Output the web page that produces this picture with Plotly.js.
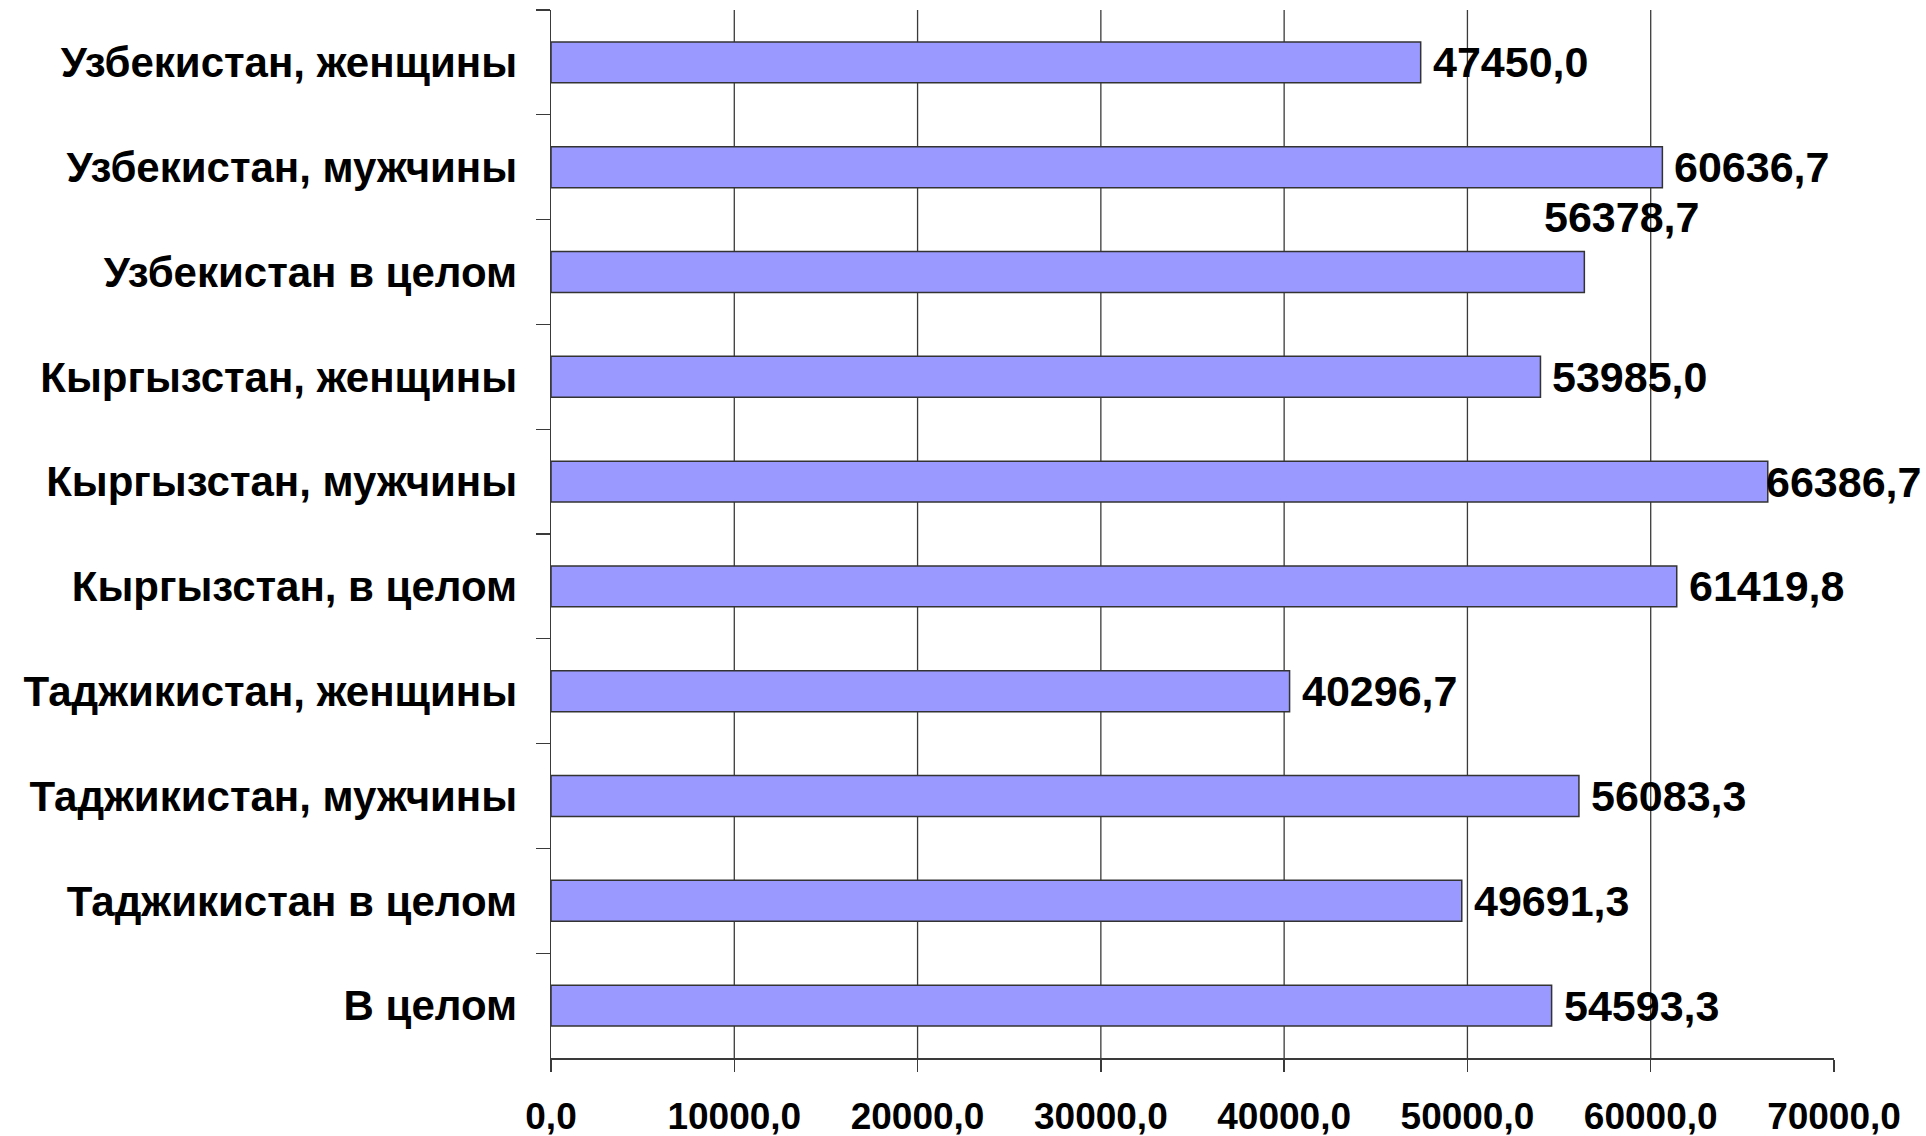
<!DOCTYPE html>
<html>
<head>
<meta charset="utf-8">
<script src="https://cdn.plot.ly/plotly-3.0.1.min.js"></script>
<style>
html, body { margin: 0; padding: 0; background: #ffffff; }
#chart { width: 1926px; height: 1136px; }
</style>
</head>
<body>
<div id="chart"></div>
<script>
// Categories, top to bottom as in the reference
var categories = [
  "Узбекистан, женщины",
  "Узбекистан, мужчины",
  "Узбекистан в целом",
  "Кыргызстан, женщины",
  "Кыргызстан, мужчины",
  "Кыргызстан, в целом",
  "Таджикистан, женщины",
  "Таджикистан, мужчины",
  "Таджикистан в целом",
  "В целом"
];
var values = [47450.0, 60636.7, 56378.7, 53985.0, 66386.7, 61419.8, 40296.7, 56083.3, 49691.3, 54593.3];
var valueLabels = ["47450,0", "60636,7", "56378,7", "53985,0", "66386,7", "61419,8", "40296,7", "56083,3", "49691,3", "54593,3"];
var xTickVals = [0, 10000, 20000, 30000, 40000, 50000, 60000, 70000];
var xTickText = ["0,0", "10000,0", "20000,0", "30000,0", "40000,0", "50000,0", "60000,0", "70000,0"];
// label offsets (pixels) for placement of value labels
var labelShiftX = [10, 10, -42, 10, -4, 10, 10, 10, 10, 10];
var labelShiftY = [0, 0, 55, 0, 0, 0, 0, 0, 0, 0];

var FONT = "'Liberation Sans', Arial, sans-serif";
var AXIS_COLOR = "#3a3a3a";

var trace = {
  type: "bar",
  orientation: "h",
  y: categories,
  x: values,
  marker: { color: "#9999ff", line: { color: "#333333", width: 1.5 } },
  hoverinfo: "skip"
};

var annotations = values.map(function (v, i) {
  return {
    x: v, y: categories[i], xref: "x", yref: "y",
    text: "<b>" + valueLabels[i] + "</b>",
    showarrow: false,
    xanchor: "left", yanchor: "middle",
    xshift: labelShiftX[i], yshift: labelShiftY[i],
    font: { family: FONT, size: 43, color: "#000000" }
  };
});

var gridShapes = xTickVals.filter(function (v) { return v > 0 && v < 70000; }).map(function (v) {
  return {
    type: "line", xref: "x", yref: "paper", x0: v, x1: v, y0: 0, y1: 1,
    line: { color: AXIS_COLOR, width: 1.3 }, layer: "below"
  };
});

var layout = {
  width: 1926, height: 1136,
  margin: { l: 551, r: 92, t: 10, b: 78, autoexpand: false },
  paper_bgcolor: "#ffffff",
  plot_bgcolor: "#ffffff",
  showlegend: false,
  bargap: 0.61,
  font: { family: FONT, color: "#000000" },
  xaxis: {
    range: [0, 70000],
    tickvals: xTickVals,
    ticktext: xTickText,
    showgrid: false,
    zeroline: false,
    showline: true, linecolor: AXIS_COLOR, linewidth: 1.5,
    ticks: "outside", ticklen: 12, tickwidth: 1.3, tickcolor: AXIS_COLOR,
    ticklabelstandoff: 13,
    tickfont: { family: FONT, size: 37, color: "#000000", weight: "bold" },
    fixedrange: true
  },
  yaxis: {
    type: "category",
    autorange: "reversed",
    tickson: "boundaries",
    showgrid: false,
    zeroline: false,
    showline: true, linecolor: AXIS_COLOR, linewidth: 1.5,
    ticks: "outside", ticklen: 14, tickwidth: 1.3, tickcolor: AXIS_COLOR,
    ticklabelstandoff: 24,
    tickfont: { family: FONT, size: 42, color: "#000000", weight: "bold" },
    fixedrange: true
  },
  shapes: gridShapes,
  annotations: annotations
};

Plotly.newPlot("chart", [trace], layout, { displayModeBar: false, staticPlot: true });
</script>
</body>
</html>
